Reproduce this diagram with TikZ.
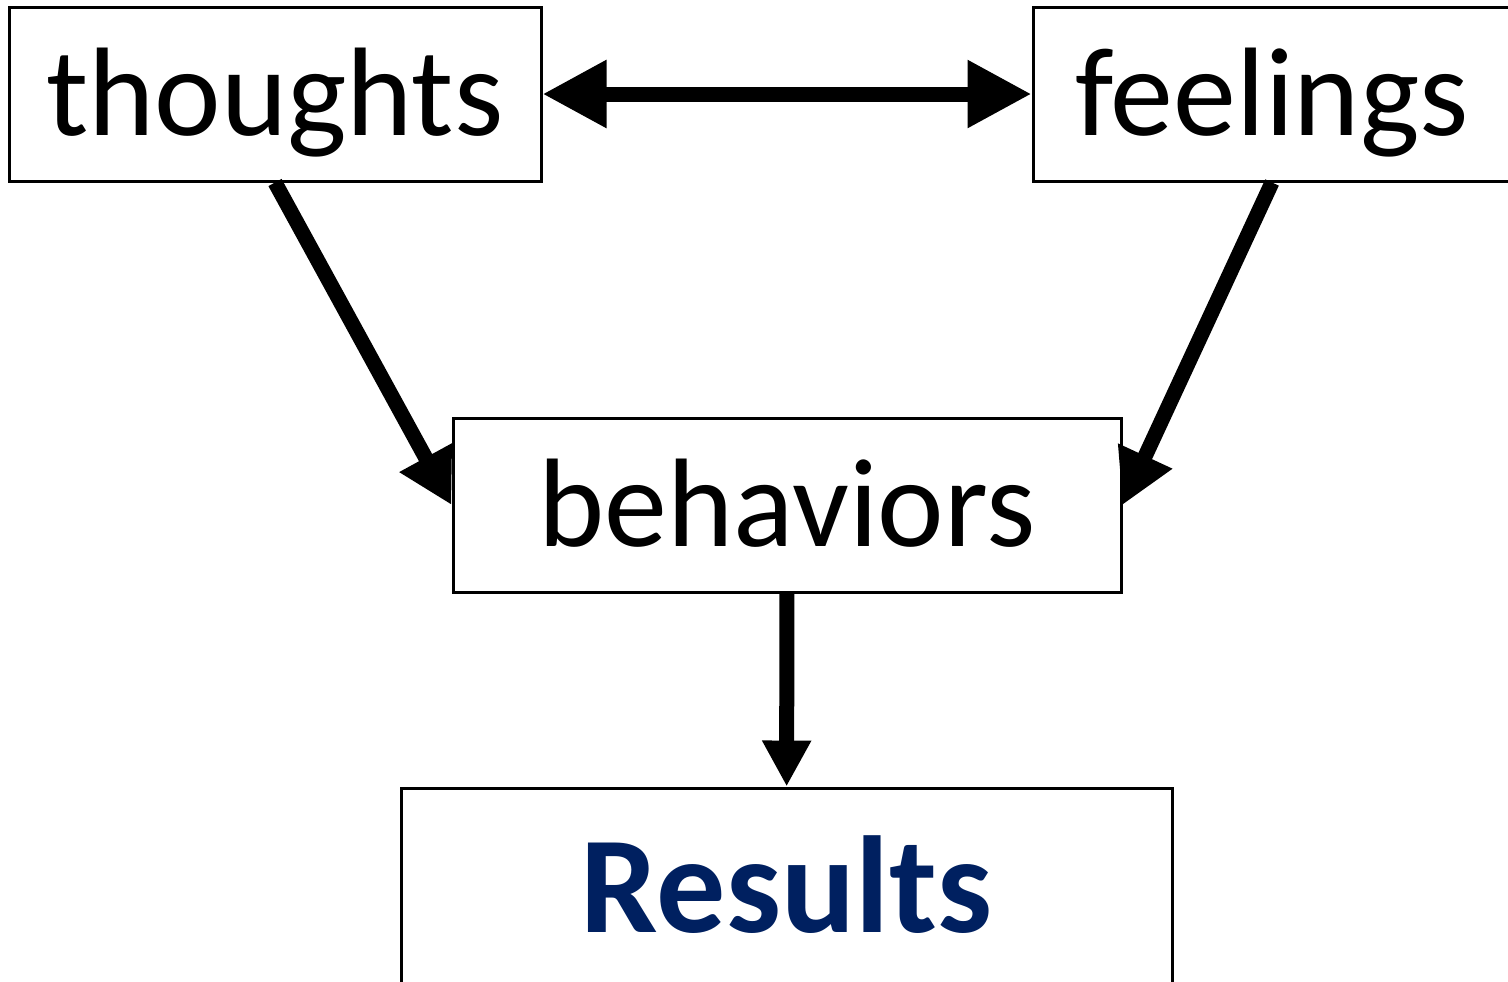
\documentclass[tikz,border=0pt]{standalone}
\usepackage{fontspec}
\setmainfont{Carlito}
\usepackage{xcolor}
\usetikzlibrary{arrows.meta}
\definecolor{resultblue}{HTML}{002060}

\begin{document}
\begin{tikzpicture}[x=0.5pt, y=-0.5pt]
\tikzstyle{box}=[draw, line width=1.5pt, inner sep=0pt, text height=41pt, text depth=0pt, minimum height=87pt, font=\fontsize{63}{70}\selectfont]
\tikzstyle{link}=[line width=7.5pt, -{Triangle[length=27pt, width=28pt]}]
\useasboundingbox (0,0) rectangle (1508,981);
\node[box, minimum width=266pt] (T) at (275,94) {thoughts};
\node[box, minimum width=239pt] (F) at (1272,94) {feelings};
\node[box, minimum width=334pt] (B) at (787,505) {behaviors};
\node[box, minimum width=385.5pt, minimum height=100pt, text height=44pt,
  font=\fontsize{69}{76}\selectfont\bfseries, text=resultblue] (R) at (786.5,888) {Results};
\draw[line width=7.5pt, {Triangle[length=32pt, width=32pt]}-{Triangle[length=32pt, width=32pt]}] (T) -- (F);
\path (T.south) edge[link] (B.west)
(F.south) edge[link] (B.east)
(B) edge[link, -{Triangle[length=23pt, width=23pt]}] (R);

\end{tikzpicture}
\end{document}
